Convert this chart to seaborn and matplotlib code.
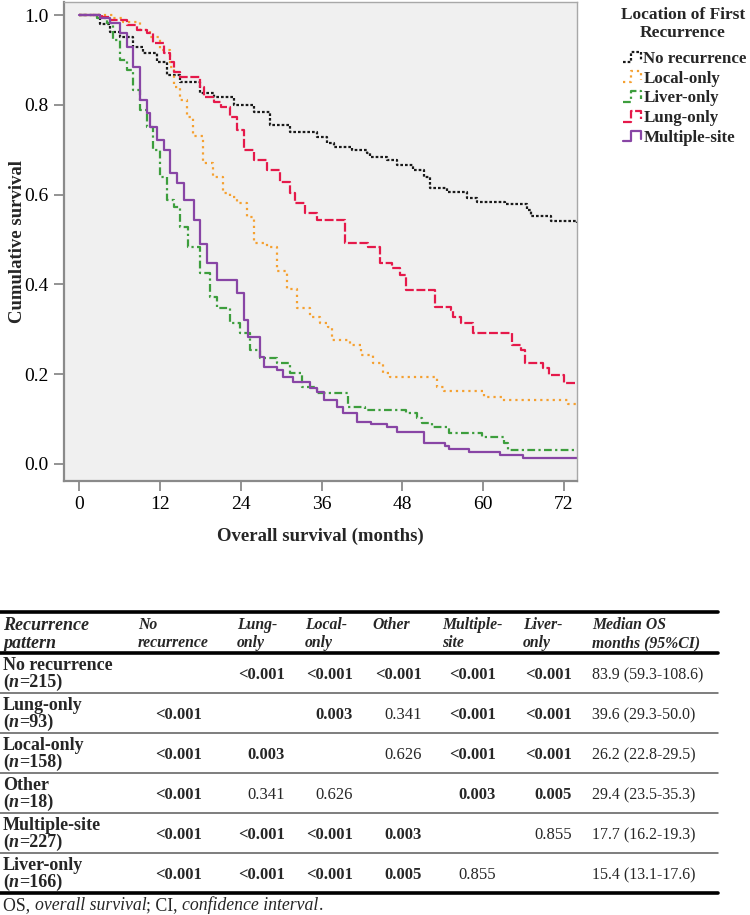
import matplotlib
matplotlib.use("Agg")
import matplotlib.pyplot as plt
import seaborn as sns
import pandas as pd
from matplotlib.lines import Line2D
from matplotlib.legend_handler import HandlerBase

# =====================================================
# DATA
# =====================================================

groups = ["No recurrence", "Local-only", "Liver-only", "Lung-only", "Multiple-site"]

t_none = [0, 3, 4.5, 6, 8, 9.5, 11.5, 13, 15, 18, 20, 23, 26, 28.4, 31.3, 35.4, 36.8,
          37.8, 40.6, 42.8, 43.2, 45.8, 47.2, 49.6, 51.2, 52.2, 54.7, 57.7, 59.2, 63.3,
          66.6, 67.1, 70.1, 74]
s_none = [1.0, 0.98, 0.962, 0.951, 0.929, 0.915, 0.895, 0.866, 0.851, 0.826, 0.817, 0.80,
          0.784, 0.755, 0.739, 0.728, 0.715, 0.706, 0.699, 0.692, 0.684, 0.677, 0.666,
          0.655, 0.64, 0.615, 0.606, 0.592, 0.584, 0.579, 0.566, 0.552, 0.541, 0.537]

t_local = [0, 5, 6.5, 9, 10.5, 12, 13.5, 14, 15, 16, 16.9, 18.4, 19.9, 21.4, 22.4, 23.4,
           24.9, 25.9, 27.9, 29.4, 30.9, 32.4, 34.3, 35.8, 37.0, 37.6, 40.3, 41.8, 43.7,
           45.2, 46.2, 53.2, 54.2, 60.1, 62.9, 72.7, 74]
s_local = [1.0, 0.993, 0.985, 0.967, 0.951, 0.922, 0.884, 0.84, 0.811, 0.773, 0.73, 0.67,
           0.639, 0.603, 0.595, 0.581, 0.55, 0.492, 0.483, 0.43, 0.39, 0.347, 0.327, 0.314,
           0.305, 0.276, 0.265, 0.243, 0.225, 0.203, 0.194, 0.171, 0.163, 0.149, 0.143,
           0.134, 0.134]

t_liver = [0, 2.6, 4.1, 5.0, 6.0, 7.1, 8.0, 9.0, 10.1, 11.0, 12.0, 13.0, 14.0, 15.0, 16.2,
           18, 19.4, 20.4, 22.4, 23.9, 25.4, 26.9, 29.4, 31.3, 33.1, 35.3, 40.0, 42.5,
           48.5, 50.2, 51, 52.5, 54.9, 59.9, 63.1, 63.8, 74]
s_liver = [1.0, 0.993, 0.982, 0.944, 0.9, 0.877, 0.833, 0.788, 0.751, 0.699, 0.639, 0.588,
           0.572, 0.528, 0.483, 0.425, 0.372, 0.347, 0.314, 0.292, 0.254, 0.236, 0.225,
           0.203, 0.171, 0.158, 0.127, 0.12, 0.114, 0.102, 0.091, 0.082, 0.069, 0.06,
           0.047, 0.031, 0.031]

t_lung = [0, 3.4, 4.5, 7, 8.5, 10, 11, 12.5, 13.5, 14, 15, 18, 18.5, 20, 21, 22.4, 23.4,
          24.4, 25.9, 27.9, 29.9, 31.3, 32.1, 33.6, 35.3, 39.5, 42.9, 44.7, 46.5, 47.7,
          48.5, 52.9, 55.2, 55.5, 56.7, 58.6, 64.4, 65.6, 66.3, 68.9, 69.8, 72, 74]
s_lung = [1.0, 0.996, 0.989, 0.978, 0.967, 0.96, 0.937, 0.915, 0.895, 0.873, 0.862, 0.84,
          0.817, 0.806, 0.795, 0.773, 0.744, 0.699, 0.677, 0.655, 0.628, 0.603, 0.581,
          0.559, 0.543, 0.492, 0.483, 0.447, 0.436, 0.421, 0.387, 0.35, 0.343, 0.327,
          0.314, 0.292, 0.265, 0.254, 0.225, 0.214, 0.198, 0.18, 0.18]

t_multi = [0, 3.1, 4.5, 6, 7.1, 8, 9, 10, 10.5, 11.5, 12.5, 13.5, 14.5, 15.5, 17, 18, 19,
           20.4, 23.4, 24.4, 25.1, 26.9, 27.4, 29.4, 30.3, 31.8, 34.3, 35.3, 36.3, 38.3,
           39.2, 41.3, 43.3, 45.8, 47.2, 51.2, 54.4, 54.9, 57.9, 62.6, 65.9, 74]
s_multi = [1.0, 0.993, 0.982, 0.96, 0.929, 0.884, 0.811, 0.782, 0.751, 0.722, 0.699, 0.648,
           0.626, 0.588, 0.543, 0.49, 0.447, 0.41, 0.381, 0.321, 0.283, 0.238, 0.216,
           0.209, 0.194, 0.183, 0.169, 0.16, 0.143, 0.127, 0.114, 0.094, 0.089, 0.082,
           0.071, 0.047, 0.04, 0.033, 0.027, 0.02, 0.013, 0.013]

curves = {
    "No recurrence": (t_none, s_none),
    "Local-only": (t_local, s_local),
    "Liver-only": (t_liver, s_liver),
    "Lung-only": (t_lung, s_lung),
    "Multiple-site": (t_multi, s_multi),
}

x_ticks = [0, 12, 24, 36, 48, 60, 72]
y_ticks = [0.0, 0.2, 0.4, 0.6, 0.8, 1.0]

# table
col_headers = [["Recurrence", "pattern"], ["No", "recurrence"], ["Lung-", "only"],
               ["Local-", "only"], ["Other"], ["Multiple-", "site"], ["Liver-", "only"],
               ["Median OS", "months (95%CI)"]]
row_names = ["No recurrence", "Lung-only", "Local-only", "Other", "Multiple-site", "Liver-only"]
row_n = [215, 93, 158, 18, 227, 166]
p_values = [
    ["", "<0.001", "<0.001", "<0.001", "<0.001", "<0.001"],
    ["<0.001", "", "0.003", "0.341", "<0.001", "<0.001"],
    ["<0.001", "0.003", "", "0.626", "<0.001", "<0.001"],
    ["<0.001", "0.341", "0.626", "", "0.003", "0.005"],
    ["<0.001", "<0.001", "<0.001", "0.003", "", "0.855"],
    ["<0.001", "<0.001", "<0.001", "0.005", "0.855", ""],
]
median_os = ["83.9 (59.3-108.6)", "39.6 (29.3-50.0)", "26.2 (22.8-29.5)",
             "29.4 (23.5-35.3)", "17.7 (16.2-19.3)", "15.4 (13.1-17.6)"]

# =====================================================
# STYLE
# =====================================================

sns.set_style("ticks")
plt.rcParams["font.family"] = ["Liberation Serif", "DejaVu Serif"]

colors = {
    "No recurrence": "#1a1a1a",
    "Local-only": "#f5a030",
    "Liver-only": "#3d9e3d",
    "Lung-only": "#e5194a",
    "Multiple-site": "#8845a5",
}
styles = {
    "No recurrence": (0, (1.2, 0.9)),
    "Local-only": (0, (1, 1.8)),
    "Liver-only": (0, (3.5, 1.5, 1, 1.5)),
    "Lung-only": (0, (4, 1.2)),
    "Multiple-site": "-",
}

fig = plt.figure(figsize=(7.5, 9.15), dpi=100)
W, H = 750, 915

ax = fig.add_axes([64 / W, 1 - 480.5 / H, (577 - 64) / W, (480.5 - 2) / H])
ax.set_facecolor("#f0f0f0")

for g in groups:
    t, s = curves[g]
    df = pd.DataFrame({"time": t, "surv": s})
    sns.lineplot(data=df, x="time", y="surv", ax=ax, estimator=None, sort=False,
                 color=colors[g], linestyle=styles[g], linewidth=1.6,
                 drawstyle="steps-post")

ax.set_xlim(-2.3, 74)
ax.set_ylim(-0.037, 1.029)
ax.set_xticks(x_ticks)
ax.set_yticks(y_ticks)
ax.set_yticklabels([f"{v:.1f}" for v in y_ticks])

for side in ["left", "bottom"]:
    ax.spines[side].set_color("#8a8a8a")
    ax.spines[side].set_linewidth(1.6)
for side in ["top", "right"]:
    ax.spines[side].set_color("#a8a8a8")
    ax.spines[side].set_linewidth(1.0)
    ax.spines[side].set_visible(True)

ax.tick_params(direction="out", length=7, width=1.3, color="#8a8a8a",
               labelsize=14, labelcolor="black", pad=4)

ax.set_xlabel("Overall survival (months)", fontsize=13.5, fontweight="bold", labelpad=11)
ax.set_ylabel("Cumulative survival", fontsize=13.5, fontweight="bold")
ax.yaxis.set_label_coords(-(64 - 26) / 513, 0.5)


# step-shaped legend keys, like the SPSS output
class StepHandler(HandlerBase):
    def create_artists(self, legend, orig_handle, xdescent, ydescent, width, height,
                       fontsize, trans):
        x0 = -xdescent
        y0 = -ydescent
        xs = [x0, x0 + width * 0.45, x0 + width * 0.45, x0 + width, x0 + width]
        ys = [y0 + height * 0.05, y0 + height * 0.05, y0 + height * 0.95,
              y0 + height * 0.95, y0 + height * 0.25]
        line = Line2D(xs, ys, color=orig_handle.get_color(),
                      linestyle=orig_handle.get_gid(), linewidth=1.6)
        line.set_transform(trans)
        return [line]


handles = []
for g in groups:
    h = Line2D([0], [0], color=colors[g], linewidth=1.6)
    h.set_gid(styles[g])
    handles.append(h)

fig.text(683 / W, 1 - 15 / H, "Location of First", fontsize=12.5, fontweight="bold",
         ha="center", va="center")
fig.text(683 / W, 1 - 33 / H, "Recurrence", fontsize=12.5, fontweight="bold",
         ha="center", va="center")

leg = fig.legend(handles, groups, loc="upper left",
                 bbox_to_anchor=(623 / W, 1 - 51 / H), frameon=False,
                 prop={"weight": "bold", "size": 12.2},
                 handler_map={Line2D: StepHandler()},
                 handlelength=1.05, handleheight=0.7, handletextpad=0.15,
                 labelspacing=0.22, borderpad=0, borderaxespad=0)

# =====================================================
# TABLE (pixel coordinates)
# =====================================================

tab = fig.add_axes([0, 0, 1, 1], zorder=-1)
tab.set_xlim(0, W)
tab.set_ylim(H, 0)
tab.axis("off")

fs_label = 13
fs_head = 11.3
fs_p = 12
fs_med = 11.5
x_left, x_right = 0, 718
header_top, header_bottom = 612, 653
row_h = 40

tab.plot([x_left, x_right], [header_top, header_top], color="black", lw=2.6)
tab.plot([x_left, x_right], [header_bottom, header_bottom], color="black", lw=2.6)
for i in range(1, len(row_names)):
    y = header_bottom + row_h * i
    tab.plot([x_left, x_right], [y, y], color="#5a5a5a", lw=1.1)
y_end = header_bottom + row_h * len(row_names)
tab.plot([x_left, x_right], [y_end, y_end], color="black", lw=2.6)

header_x = [3, 138, 237, 305, 372, 442, 523, 592]
for c, (hx, lines) in enumerate(zip(header_x, col_headers)):
    for k, txt in enumerate(lines):
        tab.text(hx, 625 + 18 * k, txt, fontsize=fs_label if c == 0 else fs_head,
                 fontweight="bold", style="italic", ha="left", va="center")


def chain(x, y, pieces, size):
    prev = None
    for txt, kw in pieces:
        if prev is None:
            prev = tab.text(x, y, txt, fontsize=size, ha="left", va="center", **kw)
        else:
            prev = tab.annotate(txt, xy=(1, 0), xycoords=prev, fontsize=size,
                                ha="left", va="bottom", **kw)
    return prev


val_right = [202, 285, 353, 422, 496, 572]
for i, name in enumerate(row_names):
    top = header_bottom + row_h * i
    tab.text(3, top + 13, name, fontsize=fs_label, fontweight="bold", ha="left",
             va="center")
    chain(3, top + 29, [("(", {"fontweight": "bold"}),
                        ("n", {"fontweight": "bold", "style": "italic"}),
                        (f"={row_n[i]})", {"fontweight": "bold"})], fs_label)
    for j, p in enumerate(p_values[i]):
        if p == "":
            continue
        sig = p.startswith("<") or float(p) < 0.05
        tab.text(val_right[j], top + 22, p, fontsize=fs_p,
                 fontweight="bold" if sig else "normal", ha="right", va="center")
    tab.text(592, top + 22, median_os[i], fontsize=fs_med, ha="left", va="center")

chain(3, 906, [("OS, ", {}), ("overall survival", {"style": "italic"}),
               ("; CI, ", {}), ("confidence interval", {"style": "italic"}),
               (".", {})], 12.8)

fig.savefig("out.png", dpi=100)
